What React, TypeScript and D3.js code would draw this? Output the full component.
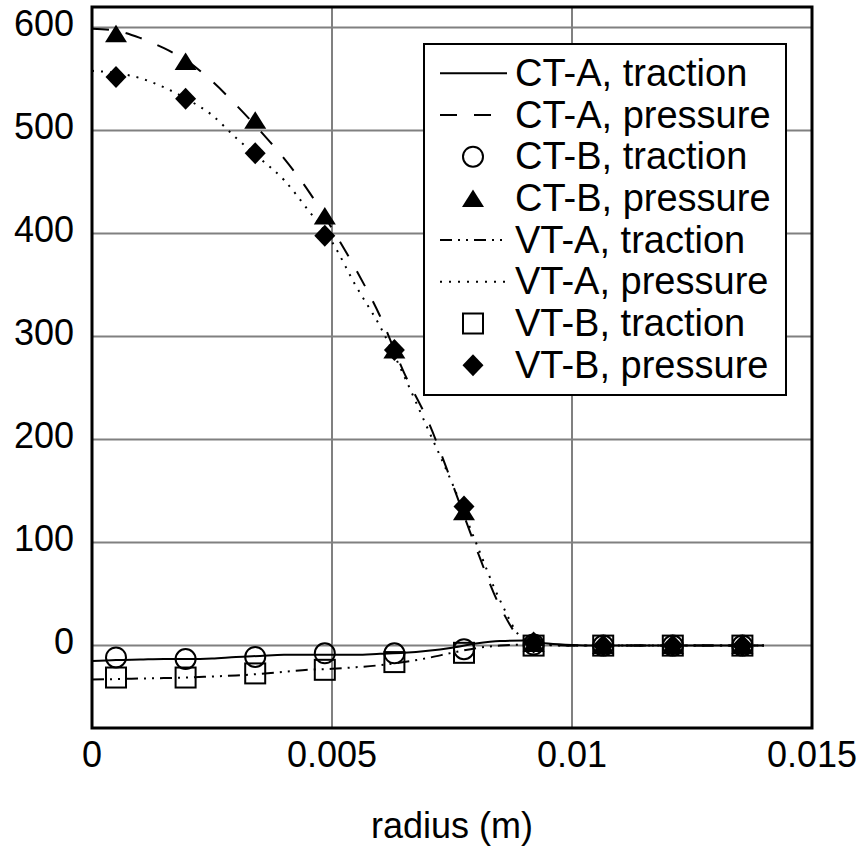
import React from "react";
import * as d3 from "d3";

// line series (A runs), sampled along the radius
const xLine = [0, 0.0005, 0.001, 0.0015, 0.002, 0.0025, 0.003, 0.0035, 0.004, 0.0045, 0.005, 0.0055, 0.006, 0.0065, 0.007, 0.0075, 0.008, 0.0085, 0.009, 0.0095, 0.01, 0.0105, 0.011, 0.0115, 0.012, 0.0125, 0.013, 0.0135, 0.014];
const ctaTraction = [-15, -14, -13.5, -13, -13, -12.5, -11, -10, -9, -9, -9, -9, -8, -7, -5, -2, 2, 4.5, 5, 2, 0.5, 0, 0, 0, 0, 0, 0, 0, 0];
const ctaPressure = [599, 597, 590, 580, 567, 548, 525, 500, 473, 442, 405, 365, 320, 265, 218, 158, 95, 38, 5, 1, 0, 0, 0, 0, 0, 0, 0, 0, 0];
const vtaTraction = [-33, -32.5, -32, -31.5, -31, -30, -29, -27.5, -25.5, -23.5, -22.5, -21, -19, -16, -12, -7, -2.5, 0, 1, 0.5, 0, 0, 0, 0, 0, 0, 0, 0, 0];
const vtaPressure = [558, 556, 551, 542, 530, 515, 493, 473, 452, 423, 392, 349, 310, 262, 210, 158, 100, 44, 6, 1, 0, 0, 0, 0, 0, 0, 0, 0, 0];

// marker series (B runs)
const xMark = [0.0005, 0.00195, 0.0034, 0.00485, 0.0063, 0.00775, 0.0092, 0.01065, 0.0121, 0.01355];
const ctbTraction = [-11.5, -13, -11, -7.5, -7.5, -3.5, 1, 0, 0, 0];
const ctbPressure = [594, 567, 510, 417, 287, 130, 2, 0, 0, 0];
const vtbTraction = [-31, -31, -27, -23.5, -16, -7, 0, 0, 0, 0];
const vtbPressure = [552, 531, 478, 398, 287, 135, 3, 0, 0, 0];

const xTicks = [0, 0.005, 0.01, 0.015];
const yTicks = [0, 100, 200, 300, 400, 500, 600];

const legendItems = [
  { label: "CT-A, traction", kind: "line", dash: "" },
  { label: "CT-A, pressure", kind: "line", dash: "17,17" },
  { label: "CT-B, traction", kind: "circle" },
  { label: "CT-B, pressure", kind: "triangle" },
  { label: "VT-A, traction", kind: "line", dash: "12,6,2,6,2,6" },
  { label: "VT-A, pressure", kind: "line", dash: "2,7" },
  { label: "VT-B, traction", kind: "square" },
  { label: "VT-B, pressure", kind: "diamond" },
];

const font = "'Liberation Sans', Arial, sans-serif";

const marker = (kind: string, cx: number, cy: number, key: any) => {
  if (kind === "circle")
    return <circle key={key} cx={cx} cy={cy} r={10} fill="none" stroke="#000" strokeWidth={2} />;
  if (kind === "square")
    return <rect key={key} x={cx - 10} y={cy - 10} width={20} height={20} fill="none" stroke="#000" strokeWidth={2} />;
  if (kind === "triangle")
    return <path key={key} d={`M${cx},${cy - 9}L${cx + 11},${cy + 8.5}L${cx - 11},${cy + 8.5}Z`} fill="#000" />;
  return <path key={key} d={`M${cx},${cy - 11}L${cx + 10.5},${cy}L${cx},${cy + 11}L${cx - 10.5},${cy}Z`} fill="#000" />;
};

export default function App() {
  const left = 92, right = 812, top = 7, bottom = 728;
  const x = d3.scaleLinear().domain([0, 0.015]).range([left, right]);
  const y = d3.scaleLinear().domain([-80, 620]).range([bottom, top]);

  const line = d3.line<number>()
    .x((_, i) => x(xLine[i]))
    .y(d => y(d))
    .curve(d3.curveMonotoneX);

  const lines = [
    { data: ctaTraction, dash: "" },
    { data: ctaPressure, dash: "17,17" },
    { data: vtaTraction, dash: "12,6,2,6,2,6" },
    { data: vtaPressure, dash: "2,7" },
  ];

  const markers = [
    { data: ctbTraction, kind: "circle" },
    { data: ctbPressure, kind: "triangle" },
    { data: vtbTraction, kind: "square" },
    { data: vtbPressure, kind: "diamond" },
  ];

  const lg = { x0: 424, y0: 44, w: 362, h: 351, row0: 73.3, step: 41.7 };

  return (
    <svg width={861} height={860} style={{ position: "absolute", left: 0, top: 0, background: "#fff" }} fontFamily={font}>
      <rect width={861} height={860} fill="#fff" />
      {/* grid */}
      {yTicks.map(t => (
        <line key={"gy" + t} x1={left} x2={right} y1={y(t)} y2={y(t)} stroke="#808080" strokeWidth={2} />
      ))}
      {xTicks.slice(1, -1).map(t => (
        <line key={"gx" + t} x1={x(t)} x2={x(t)} y1={top} y2={bottom} stroke="#808080" strokeWidth={2} />
      ))}
      {/* curves */}
      {lines.map((l, i) => (
        <path key={"l" + i} d={line(l.data) || ""} fill="none" stroke="#000" strokeWidth={2} strokeDasharray={l.dash || undefined} />
      ))}
      {markers.map((m, i) => m.data.map((v, j) => marker(m.kind, x(xMark[j]), y(v), `m${i}-${j}`)))}
      {/* frame */}
      <rect x={left} y={top} width={right - left} height={bottom - top} fill="none" stroke="#000" strokeWidth={3} />
      {/* tick labels */}
      {yTicks.map(t => (
        <text key={"ty" + t} x={74} y={y(t) + 8.5} textAnchor="end" fontSize={36} fill="#000">{t}</text>
      ))}
      {xTicks.map(t => (
        <text key={"tx" + t} x={x(t)} y={bottom + 39} textAnchor="middle" fontSize={36} fill="#000">{String(t)}</text>
      ))}
      <text x={(left + right) / 2} y={838} textAnchor="middle" fontSize={36} fill="#000">radius (m)</text>
      {/* legend */}
      <rect x={lg.x0} y={lg.y0} width={lg.w} height={lg.h} fill="#fff" stroke="#000" strokeWidth={2} />
      {legendItems.map((it, i) => {
        const cy = lg.row0 + i * lg.step;
        return (
          <g key={"lg" + i}>
            {it.kind === "line"
              ? <line x1={440} x2={507} y1={cy} y2={cy} stroke="#000" strokeWidth={2} strokeDasharray={it.dash || undefined} />
              : marker(it.kind, 473, cy, "lm" + i)}
            <text x={515} y={cy + 12.5} fontSize={38} fill="#000">{it.label}</text>
          </g>
        );
      })}
    </svg>
  );
}
